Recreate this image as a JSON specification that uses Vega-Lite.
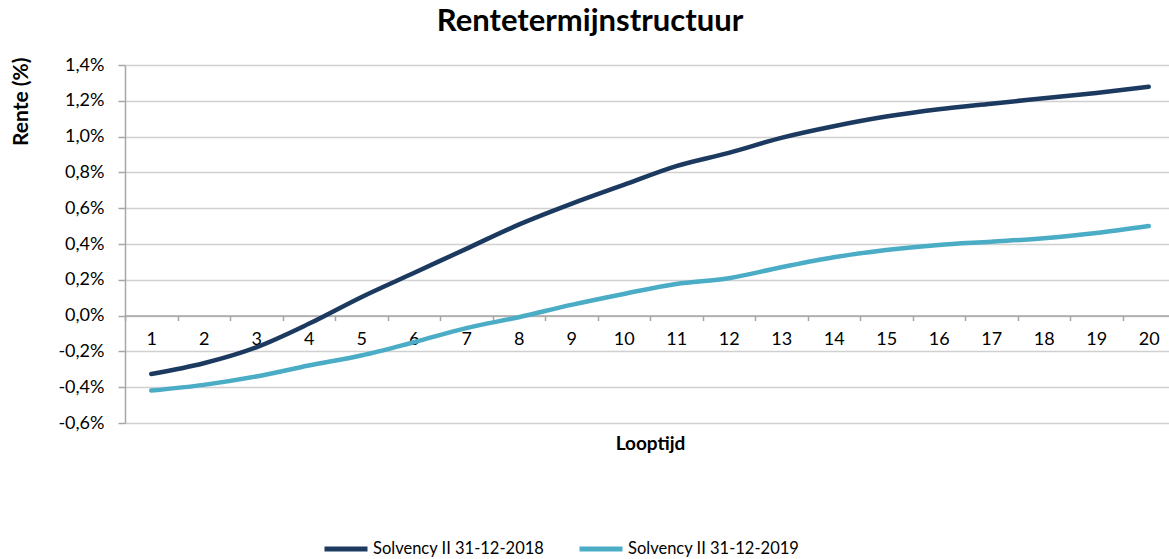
{
  "$schema": "https://vega.github.io/schema/vega-lite/v6.json",
  "width": 1050,
  "height": 358,
  "autosize": "none",
  "padding": {"left": 125, "top": 65, "right": 0, "bottom": 136},
  "background": "white",
  "title": {
    "text": "Rentetermijnstructuur",
    "font": "Lato",
    "fontSize": 31,
    "fontWeight": "bold",
    "color": "#000000",
    "anchor": "middle",
    "dx": -60,
    "offset": 18
  },
  "config": {
    "view": {"stroke": null},
    "font": "Lato"
  },
  "data": {
    "values": [
      {"looptijd": 1, "serie": "Solvency II 31-12-2018", "rente": -0.326},
      {"looptijd": 2, "serie": "Solvency II 31-12-2018", "rente": -0.266},
      {"looptijd": 3, "serie": "Solvency II 31-12-2018", "rente": -0.177},
      {"looptijd": 4, "serie": "Solvency II 31-12-2018", "rente": -0.046},
      {"looptijd": 5, "serie": "Solvency II 31-12-2018", "rente": 0.103},
      {"looptijd": 6, "serie": "Solvency II 31-12-2018", "rente": 0.238},
      {"looptijd": 7, "serie": "Solvency II 31-12-2018", "rente": 0.373},
      {"looptijd": 8, "serie": "Solvency II 31-12-2018", "rente": 0.508},
      {"looptijd": 9, "serie": "Solvency II 31-12-2018", "rente": 0.624},
      {"looptijd": 10, "serie": "Solvency II 31-12-2018", "rente": 0.73},
      {"looptijd": 11, "serie": "Solvency II 31-12-2018", "rente": 0.835},
      {"looptijd": 12, "serie": "Solvency II 31-12-2018", "rente": 0.909},
      {"looptijd": 13, "serie": "Solvency II 31-12-2018", "rente": 0.993},
      {"looptijd": 14, "serie": "Solvency II 31-12-2018", "rente": 1.058},
      {"looptijd": 15, "serie": "Solvency II 31-12-2018", "rente": 1.112},
      {"looptijd": 16, "serie": "Solvency II 31-12-2018", "rente": 1.153},
      {"looptijd": 17, "serie": "Solvency II 31-12-2018", "rente": 1.184},
      {"looptijd": 18, "serie": "Solvency II 31-12-2018", "rente": 1.214},
      {"looptijd": 19, "serie": "Solvency II 31-12-2018", "rente": 1.244},
      {"looptijd": 20, "serie": "Solvency II 31-12-2018", "rente": 1.279},
      {"looptijd": 1, "serie": "Solvency II 31-12-2019", "rente": -0.419},
      {"looptijd": 2, "serie": "Solvency II 31-12-2019", "rente": -0.387},
      {"looptijd": 3, "serie": "Solvency II 31-12-2019", "rente": -0.34},
      {"looptijd": 4, "serie": "Solvency II 31-12-2019", "rente": -0.279},
      {"looptijd": 5, "serie": "Solvency II 31-12-2019", "rente": -0.223},
      {"looptijd": 6, "serie": "Solvency II 31-12-2019", "rente": -0.149},
      {"looptijd": 7, "serie": "Solvency II 31-12-2019", "rente": -0.07},
      {"looptijd": 8, "serie": "Solvency II 31-12-2019", "rente": -0.009},
      {"looptijd": 9, "serie": "Solvency II 31-12-2019", "rente": 0.06},
      {"looptijd": 10, "serie": "Solvency II 31-12-2019", "rente": 0.121},
      {"looptijd": 11, "serie": "Solvency II 31-12-2019", "rente": 0.177},
      {"looptijd": 12, "serie": "Solvency II 31-12-2019", "rente": 0.209},
      {"looptijd": 13, "serie": "Solvency II 31-12-2019", "rente": 0.27},
      {"looptijd": 14, "serie": "Solvency II 31-12-2019", "rente": 0.326},
      {"looptijd": 15, "serie": "Solvency II 31-12-2019", "rente": 0.367},
      {"looptijd": 16, "serie": "Solvency II 31-12-2019", "rente": 0.395},
      {"looptijd": 17, "serie": "Solvency II 31-12-2019", "rente": 0.413},
      {"looptijd": 18, "serie": "Solvency II 31-12-2019", "rente": 0.432},
      {"looptijd": 19, "serie": "Solvency II 31-12-2019", "rente": 0.462},
      {"looptijd": 20, "serie": "Solvency II 31-12-2019", "rente": 0.501}
    ]
  },
  "mark": {"type": "line", "strokeWidth": 4.5, "strokeCap": "round", "strokeJoin": "round", "interpolate": "monotone"},
  "encoding": {
    "x": {
      "field": "looptijd",
      "type": "ordinal",
      "scale": {"type": "band", "paddingInner": 0, "paddingOuter": 0},
      "axis": {
        "title": "Looptijd",
        "titleFont": "Lato",
        "titleFontSize": 19,
        "titleFontWeight": "bold",
        "titleColor": "#000000",
        "titleBaseline": "middle",
        "titleY": 128,
        "labelAngle": 0,
        "labelFont": "Lato",
        "labelFontSize": 18,
        "labelColor": "#000000",
        "labelPadding": 10,
        "tickBand": "extent",
        "tickSize": 5,
        "tickColor": "#a6a6a6",
        "tickWidth": 1.5,
        "domainColor": "#a6a6a6",
        "domainWidth": 1.5,
        "grid": false,
        "offset": -107.4
      }
    },
    "y": {
      "field": "rente",
      "type": "quantitative",
      "scale": {"domain": [-0.6, 1.4], "nice": false, "zero": false},
      "axis": {
        "title": "Rente (%)",
        "titleFont": "Lato",
        "titleFontSize": 21,
        "titleFontWeight": "bold",
        "titleColor": "#000000",
        "titleAngle": -90,
        "titleAlign": "right",
        "titleBaseline": "middle",
        "titleX": -104,
        "titleY": -8,
        "values": [-0.6, -0.4, -0.2, 0, 0.2, 0.4, 0.6, 0.8, 1.0, 1.2, 1.4],
        "labelExpr": "replace(replace(format(datum.value, '.1f'), '.', ','), '\u2212', '-') + '%'",
        "labelFont": "Lato",
        "labelFontSize": 18,
        "labelColor": "#000000",
        "labelPadding": 14,
        "tickSize": 7,
        "tickColor": "#a6a6a6",
        "tickWidth": 1.5,
        "domainColor": "#a6a6a6",
        "domainWidth": 1.5,
        "grid": true,
        "gridColor": "#d0d0d0",
        "gridWidth": 1.5
      }
    },
    "color": {
      "field": "serie",
      "type": "nominal",
      "scale": {"domain": ["Solvency II 31-12-2018", "Solvency II 31-12-2019"], "range": ["#1c3a60", "#4bacc6"]},
      "legend": {
        "title": null,
        "orient": "none",
        "direction": "horizontal",
        "legendX": 197,
        "legendY": 460,
        "symbolType": "stroke",
        "symbolSize": 1849,
        "symbolStrokeWidth": 5,
        "labelFont": "Lato",
        "labelFontSize": 16.5,
        "labelColor": "#000000",
        "labelLimit": 400,
        "labelOffset": 3,
        "columnPadding": 24
      }
    }
  }
}
